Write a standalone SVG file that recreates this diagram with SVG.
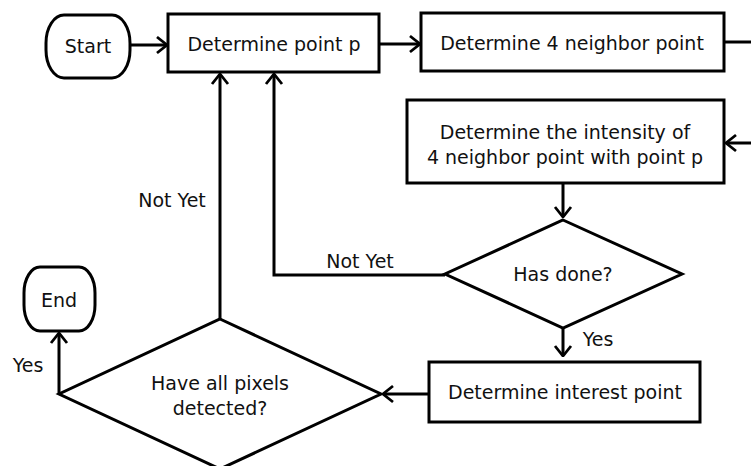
<svg xmlns="http://www.w3.org/2000/svg" width="751" height="466" viewBox="0 0 751 466">
<style>
.s{fill:#fff;stroke:#000;stroke-width:3}
.c{fill:none;stroke:#000;stroke-width:3}
text{font-family:"DejaVu Sans",Verdana,sans-serif;font-size:19px;fill:#111}
.m{text-anchor:middle}
</style>
<defs>
<marker id="a" viewBox="0 0 12 20" refX="11" refY="10" markerWidth="12" markerHeight="20" orient="auto" markerUnits="userSpaceOnUse">
<path d="M1,2 L11,10 L1,18" fill="none" stroke="#000" stroke-width="2.8"/>
</marker>
</defs>
<rect width="751" height="466" fill="#fff"/>
<g id="connectors">
<path class="c" d="M130,45 H167" marker-end="url(#a)"/>
<path class="c" d="M379,44 H420" marker-end="url(#a)"/>
<path class="c" d="M724,42 H751"/>
<path class="c" d="M751,143 H726" marker-end="url(#a)"/>
<path class="c" d="M563,183 V217" marker-end="url(#a)"/>
<path class="c" d="M563,328 V356" marker-end="url(#a)"/>
<path class="c" d="M429,394 H383" marker-end="url(#a)"/>
<path class="c" d="M445,275 H274 V74" marker-end="url(#a)"/>
<path class="c" d="M220,319 V74" marker-end="url(#a)"/>
<path class="c" d="M59,394 V333" marker-end="url(#a)"/>
<text x="172" y="207" class="m">Not Yet</text>
<text x="360" y="268" class="m">Not Yet</text>
<text x="598" y="346" class="m">Yes</text>
<text x="28" y="372" class="m">Yes</text>
</g>
<g id="start">
<rect class="s" x="46" y="15" width="84" height="63" rx="18" ry="28"/>
<text x="88" y="53" class="m">Start</text>
</g>
<g id="point-p">
<rect class="s" x="168" y="14" width="211" height="58"/>
<text x="274" y="51" class="m">Determine point p</text>
</g>
<g id="neighbor">
<rect class="s" x="421" y="13" width="303" height="58"/>
<text x="572" y="50" class="m">Determine 4 neighbor point</text>
</g>
<g id="intensity">
<rect class="s" x="407" y="100" width="317" height="83"/>
<text x="565" y="139" class="m">Determine the intensity of</text>
<text x="565" y="164" class="m">4 neighbor point with point p</text>
</g>
<g id="has-done">
<polygon class="s" points="563,220 682,274 563,328 445,274"/>
<text x="563" y="281" class="m">Has done?</text>
</g>
<g id="interest">
<rect class="s" x="429" y="362" width="271" height="60"/>
<text x="565" y="399" class="m">Determine interest point</text>
</g>
<g id="all-pixels">
<polygon class="s" points="220,319 381,394 220,469 59,394"/>
<text x="220" y="390" class="m">Have all pixels</text>
<text x="220" y="415" class="m">detected?</text>
</g>
<g id="end">
<rect class="s" x="24" y="267" width="71" height="64" rx="16" ry="26"/>
<text x="59" y="307" class="m">End</text>
</g>
</svg>
